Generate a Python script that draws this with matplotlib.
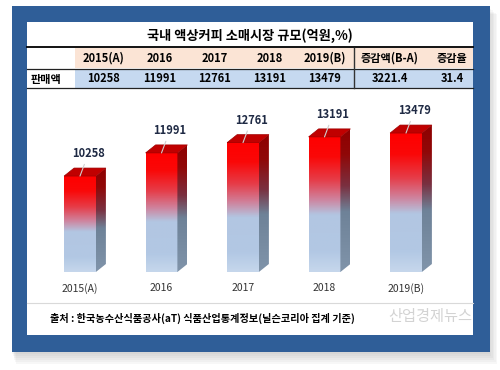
import numpy as np
import matplotlib
matplotlib.use("Agg")
import matplotlib.pyplot as plt
from matplotlib.patches import Rectangle, Polygon
from matplotlib.colors import LinearSegmentedColormap

plt.rcParams['font.family'] = ['Noto Sans CJK KR', 'DejaVu Sans']

# data
title = "국내 액상커피 소매시장 규모(억원,%)"
years = ["2015(A)", "2016", "2017", "2018", "2019(B)"]
sales = [10258, 11991, 12761, 13191, 13479]
extra_heads = ["증감액(B-A)", "증감율"]
extra_vals = ["3221.4", "31.4"]
row_label = "판매액"
source = "출처 : 한국농수산식품공사(aT) 식품산업통계정보(닐슨코리아 집계 기준)"
watermark = "산업경제뉴스"

W, H = 500, 370
fig = plt.figure(figsize=(W / 100, H / 100), dpi=100)
fig.patch.set_facecolor('white')

#####################################################################
# background: frame, panel, table (pixel coords, y down)
bg = fig.add_axes([0, 0, 1, 1])
bg.set_xlim(0, W)
bg.set_ylim(H, 0)
bg.axis('off')

# soft shadow
for k in range(6):
    bg.add_patch(Rectangle((12 + k * 0.8, 8 + k * 1.2), 478 + k * 0.6, 346 + k * 0.8,
                           facecolor='#808080', alpha=0.06, edgecolor='none', zorder=0))
bg.add_patch(Rectangle((12, 6), 478, 346, facecolor='#2f5e98', edgecolor='none', zorder=1))
bg.add_patch(Rectangle((27, 22), 446, 313, facecolor='white', edgecolor='none', zorder=2))

# table
col_x = [104, 160, 215, 270, 325, 390, 452]
bg.add_patch(Rectangle((75, 48), 398, 20, facecolor='#fbe4d5', edgecolor='none', zorder=3))
bg.add_patch(Rectangle((75, 69), 398, 19, facecolor='#c6d9f0', edgecolor='none', zorder=3))
bg.plot([27, 473], [47, 47], color='black', lw=1.3, zorder=4)
bg.plot([27, 473], [68.5, 68.5], color='#222222', lw=0.9, zorder=4)
bg.plot([27, 473], [88, 88], color='#222222', lw=0.9, zorder=4)
bg.plot([354, 354], [48, 88], color='#333333', lw=1.0, zorder=4)

bg.text(250, 36, title, ha='center', va='center', fontsize=9.5, fontweight='bold', zorder=5)
heads = years + extra_heads
vals = [str(v) for v in sales] + extra_vals
for cx, hd, vl in zip(col_x, heads, vals):
    bg.text(cx, 58.5, hd, ha='center', va='center', fontsize=8, fontweight='bold', zorder=5)
    bg.text(cx, 79, vl, ha='center', va='center', fontsize=8, fontweight='bold', zorder=5)
bg.text(46, 79, row_label, ha='center', va='center', fontsize=8, fontweight='bold', zorder=5)

# footer
bg.plot([27, 473], [303, 303], color='#d9d9d9', lw=0.8, zorder=4)
bg.text(50, 318, source, ha='left', va='center', fontsize=7.3, fontweight='bold', zorder=5)
bg.text(388, 316, watermark, ha='left', va='center', fontsize=11, color='#c8c8c8',
        alpha=0.8, zorder=6)

#####################################################################
# bar chart
Y0 = 3070.0
YMAX = 15205.0
ax = fig.add_axes([39.25 / W, 98 / H, 407.5 / W, 162 / H], zorder=3)
ax.set_facecolor('none')
ax.set_xlim(-0.5, len(years) - 0.5)
ax.set_ylim(Y0, YMAX)
for s in ax.spines.values():
    s.set_visible(False)
ax.set_yticks([])

x = np.arange(len(years))
bw = 0.39
dx = 10 / 81.5
dy = 8 * (YMAX - Y0) / 162

front_cmap = LinearSegmentedColormap.from_list('front', [
    (0.0, '#ff0000'), (0.15, '#fa0808'), (0.32, '#e63c48'),
    (0.46, '#d0809a'), (0.58, '#b2c6e2'), (0.85, '#b2c8e4'), (1.0, '#c6d7ec')])
side_cmap = LinearSegmentedColormap.from_list('side', [
    (0.0, '#8e0000'), (0.18, '#900808'), (0.4, '#7a3040'),
    (0.58, '#6e8298'), (1.0, '#8094aa')])
grad = np.linspace(0, 1, 200).reshape(-1, 1)

bars = ax.bar(x, np.array(sales) - Y0, bottom=Y0, width=bw, color='none', edgecolor='none')
for b, v in zip(bars, sales):
    x0 = b.get_x()
    x1 = x0 + b.get_width()
    ax.imshow(grad, cmap=front_cmap, extent=(x0, x1, Y0, v), aspect='auto',
              origin='upper', zorder=2, interpolation='bilinear')
    side = Polygon([(x1, Y0), (x1 + dx, Y0 + dy), (x1 + dx, v + dy), (x1, v)],
                   closed=True, facecolor='none', edgecolor='none')
    ax.add_patch(side)
    im = ax.imshow(grad, cmap=side_cmap, extent=(x1, x1 + dx, Y0, v + dy), aspect='auto',
                   origin='upper', zorder=2, interpolation='bilinear')
    im.set_clip_path(side)
    top = Polygon([(x0, v), (x0 + dx, v + dy), (x1 + dx, v + dy), (x1, v)],
                  closed=True, facecolor='#c00000', edgecolor='#a00000', lw=0.5, zorder=3)
    ax.add_patch(top)
    ax.annotate(str(v), xy=(b.get_x() + b.get_width() / 2, v), xytext=(6, 16),
                textcoords='offset points', ha='center', va='center',
                fontsize=8, fontweight='bold', color='#1f2a44', zorder=5,
                arrowprops=dict(arrowstyle='-', color='#d0d0d0', lw=0.8,
                                shrinkA=1, shrinkB=0))

ax.set_xticks(x, years)
ax.tick_params(axis='x', length=0, pad=8, labelsize=7.5, labelcolor='#333333')

fig.savefig('out.png', dpi=100)
